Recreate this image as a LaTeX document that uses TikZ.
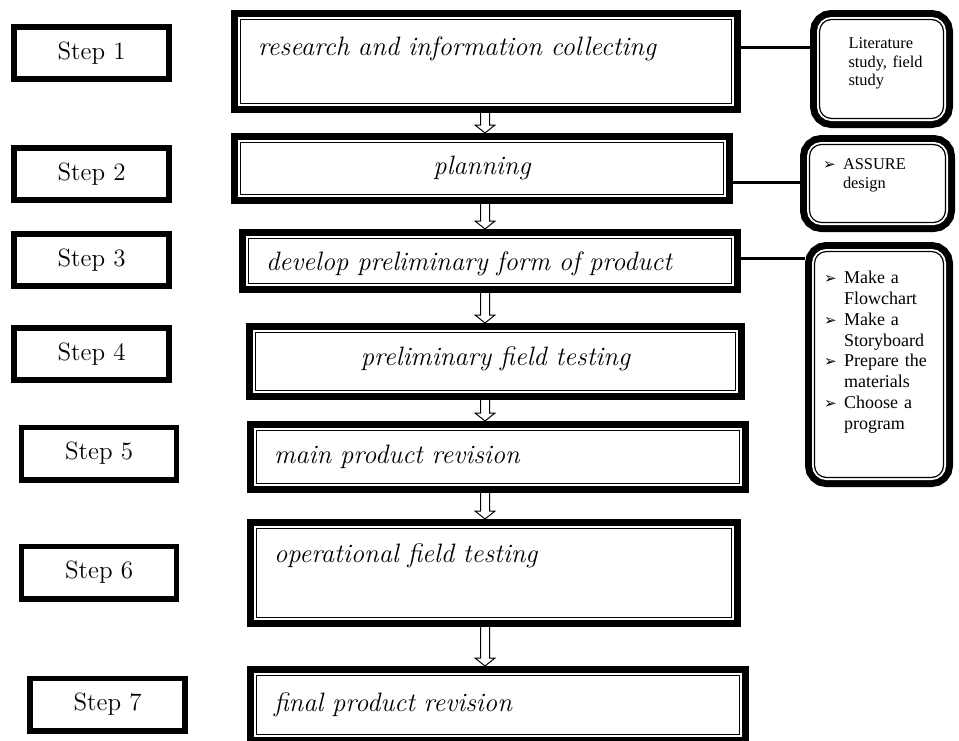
\documentclass[tikz,border=0pt]{standalone}
\usepackage{fontspec}
\newfontfamily\timesfont{Liberation Serif}
\newfontfamily\dingfont{DejaVu Sans}
\usetikzlibrary{calc}
\usetikzlibrary{positioning}

\newcommand{\pointer}{\makebox[10pt][l]{\dingfont\fontsize{7.5}{7.5}\selectfont ➢}}

\begin{document}
\begin{tikzpicture}[x=0.5pt, y=-0.5pt,
        stepbox/.style={draw, line width=2.8pt, minimum width=77.5pt, minimum height=26.2pt, font=\fontsize{12.5}{15}\selectfont},
        framebox/.style={preaction={draw=black, line width=9.5pt}, fill=white, draw=white, line width=2.5pt, postaction={draw=black, line width=0.6pt}, outer sep=4.75pt},
        mainbox/.style={framebox, inner xsep=8.75pt, text height=9.5pt, text depth=3.5pt, font=\fontsize{13.3}{16}\selectfont\itshape},
        sidebox/.style={framebox, rounded corners=6pt, inner xsep=0pt, align=left, font=\timesfont\fontsize{8.2}{9.25}\selectfont},
        hollow/.style={draw, fill=white, line width=0.5pt, to path={let \p1=(\tikztostart), \p2=(\tikztotarget) in
            (\x1-2.25pt,\y1) -- (\x1-2.25pt,\y2+4pt) -- (\x1-5pt,\y2+4pt) -- (\x2,\y2) -- (\x1+5pt,\y2+4pt) -- (\x1+2.25pt,\y2+4pt) -- (\x1+2.25pt,\y1)}},
        link/.style={line width=1.5pt}]
        \useasboundingbox (0,0) rectangle (959,740);

        %% Step labels
        \node[stepbox] (s1) at (91.5,53) {Step 1};
        \node[stepbox] (s2) at (91.5,174) {Step 2};
        \node[stepbox] (s3) at (91.5,260) {Step 3};
        \node[stepbox] (s4) at (91.5,354) {Step 4};
        \node[stepbox] (s5) at (99,453.5) {Step 5};
        \node[stepbox] (s6) at (99,572.5) {Step 6};
        \node[stepbox] (s7) at (107.5,704.5) {Step 7};

        %% Main stages
        \node[mainbox, minimum width=245.5pt, minimum height=42pt, text width=228pt, align=left, text depth=16pt] (b1) at (486,61.5) {research and information collecting};
        \node[mainbox, minimum width=241.5pt, minimum height=26pt, text width=224pt, align=center] (b2) at (482,168.5) {planning};
        \node[mainbox, minimum width=241.5pt, minimum height=22.5pt, text width=224pt, align=left, text depth=0pt] (b3) at (490,261) {develop preliminary form of product};
        \node[mainbox, minimum width=240pt, minimum height=29pt, text width=222.5pt, align=center, text depth=6pt] (b4) at (495.5,361.5) {preliminary field testing};
        \node[mainbox, minimum width=241.5pt, minimum height=26.5pt, text width=224pt, align=left] (b5) at (498,457) {main product revision};
        \node[mainbox, minimum width=237.5pt, minimum height=44.5pt, text width=220pt, align=left, text depth=20.5pt] (b6) at (494,573) {operational field testing};
        \node[mainbox, minimum width=241.5pt, minimum height=29.5pt, text width=224pt, align=left] (b7) at (498,705) {final product revision};

        %% Flow arrows
        \coordinate (ax) at (485,0);
        \draw[hollow] (ax |- b1.south) to (ax |- b2.north);
        \draw[hollow] (ax |- b2.south) to (ax |- b3.north);
        \draw[hollow] (ax |- b3.south) to (ax |- b4.north);
        \draw[hollow] (ax |- b4.south) to (ax |- b5.north);
        \draw[hollow] (ax |- b5.south) to (ax |- b6.north);
        \draw[hollow] (ax |- b6.south) to (ax |- b7.north);

        %% Details on the right
        \node[sidebox, minimum width=62pt, minimum height=49.5pt, text width=33pt, text depth=25.5pt] (r1) at (881.5,69) {Literature\\\mbox{study, field}\\study};
        \node[sidebox, minimum width=68pt, minimum height=39pt, text width=54.5pt, text depth=19pt] (r2) at (877.5,183.5) {\pointer ASSURE\\\hspace*{10pt}design};
        \node[sidebox, minimum width=64.5pt, minimum height=113pt, text width=55pt, text depth=87pt, font=\timesfont\fontsize{9}{10.4}\selectfont] (r3) at (879,364.5) {\pointer Make a\\\hspace*{10pt}Flowchart\\\pointer Make a\\\hspace*{10pt}Storyboard\\\pointer Prepare the\\\hspace*{10pt}materials\\\pointer Choose a\\\hspace*{10pt}program};

        \coordinate (l1) at ([yshift=7.25pt]b1.east);
        \coordinate (l2) at ([yshift=-6.75pt]b2.east);
        \coordinate (l3) at ([yshift=1.5pt]b3.east);
        \draw[link] (l1) -- (l1 -| r1.west);
        \draw[link] (l2) -- (l2 -| r2.west);
        \draw[link] (l3) -- (l3 -| r3.west);
    \end{tikzpicture}
\end{document}
